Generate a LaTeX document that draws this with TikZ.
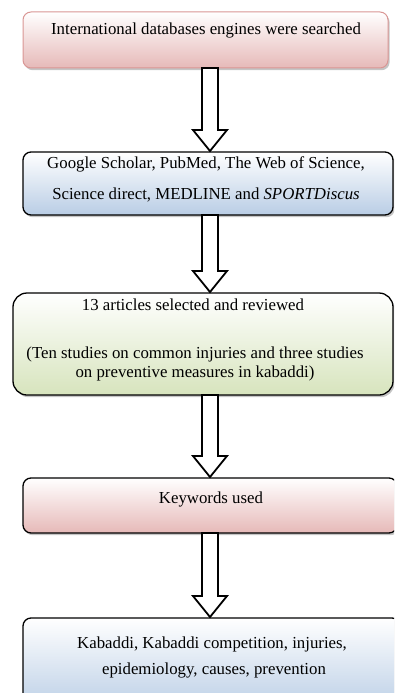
\documentclass[tikz,border=0pt]{standalone}
\usepackage{fontspec}
\setmainfont{Liberation Serif}
\usetikzlibrary{calc,shadows}
\definecolor{pinkb}{HTML}{E6B9B8}
\definecolor{blueb}{HTML}{B9CDE5}
\definecolor{greenb}{HTML}{D7E4BD}
\definecolor{pinkline}{HTML}{D99694}
\begin{document}
\begin{tikzpicture}[x=1pt,y=-1pt,
  box/.style={rounded corners=8pt, line width=1.3pt, draw=black, anchor=north west,
    inner sep=0pt, outer sep=0pt, top color=white,
    drop shadow={shadow xshift=1.6pt, shadow yshift=-2.2pt, fill=black!45}},
  txt/.style={font=\fontsize{16.8}{19}\selectfont, inner sep=0pt, anchor=base},
  blockarr/.style={line width=1.8pt, draw=black, fill=white, line join=miter,
    to path={let \p1=(\tikztostart), \p2=(\tikztotarget) in
      (\x1-8pt,\y1) -- (\x1+8pt,\y1) -- (\x1+8pt,\y2+22pt) -- (\x1+17pt,\y2+22pt)
      -- (\x1,\y2+1pt) -- (\x1-17pt,\y2+22pt) -- (\x1-8pt,\y2+22pt) -- cycle}}]
\useasboundingbox (0,0) rectangle (394,693);
\clip (0,0) rectangle (394,693);
% boxes
\node[box, draw=pinkline, line width=1pt, bottom color=pinkb, minimum width=365pt, minimum height=56pt] (b1) at (23,12) {};
\node[box, bottom color=blueb, minimum width=370pt, minimum height=63pt] (b2) at (23,152) {};
\node[box, rounded corners=14pt, bottom color=greenb, minimum width=380pt, minimum height=102pt] (b3) at (13,293) {};
\node[box, bottom color=pinkb, minimum width=374pt, minimum height=55pt] (b4) at (23,478) {};
\node[box, bottom color=blueb, minimum width=377pt, minimum height=95pt] (b5) at (23,618) {};
% texts
\node[txt] (t1) at (206,35) {International databases engines were searched};
\node[txt] (t2a) at (206,168) {Google Scholar, PubMed, The Web of Science,};
\node[txt] (t2b) at (206,199) {Science direct, MEDLINE and \textit{SPORTDiscus}};
\node[txt] (t3a) at (193,310) {13 articles selected and reviewed};
\node[txt] (t3b) at (195,358) {(Ten studies on common injuries and three studies};
\node[txt] (t3c) at (195,377) {on preventive measures in kabaddi)};
\node[txt] (t4) at (211,503) {Keywords used};
\node[txt] (t5a) at (212,648) {Kabaddi, Kabaddi competition, injuries,};
\node[txt] (t5b) at (214,674) {epidemiology, causes, prevention};
% arrows
\coordinate (ax) at (210,0);
\draw[blockarr] (b1.south -| ax) to (b2.north -| ax);
\draw[blockarr] (b2.south -| ax) to (b3.north -| ax);
\draw[blockarr] (b3.south -| ax) to (b4.north -| ax);
\draw[blockarr] (b4.south -| ax) to (b5.north -| ax);
\end{tikzpicture}
\end{document}
